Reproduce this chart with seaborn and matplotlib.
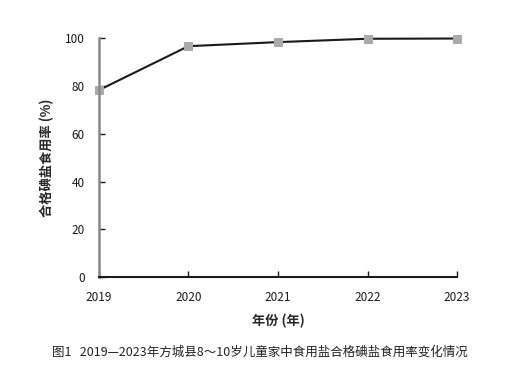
import pandas as pd
import seaborn as sns
import matplotlib.pyplot as plt

# datos
years = ["2019", "2020", "2021", "2022", "2023"]
rates = [78.2, 96.6, 98.3, 99.7, 99.8]
yticks = [0, 20, 40, 60, 80, 100]

sns.set_style("white")
plt.rcParams['font.family'] = ['Noto Sans CJK SC', 'DejaVu Sans']

df = pd.DataFrame({"year": years, "rate": rates})

fig = plt.figure(figsize=(5.2, 3.73), dpi=100)
ax = fig.add_axes([0.19, 0.257, 0.689, 0.641])

sns.lineplot(data=df, x="year", y="rate", ax=ax, color="#1a1a1a", linewidth=1.5,
             marker="s", markersize=6, markerfacecolor="#aaaaaa", markeredgecolor="#aaaaaa",
             sort=False)

ax.set_ylim(0, 100)
ax.set_xlim(0, 4)
ax.set_yticks(yticks)
ax.tick_params(axis="both", direction="in", length=4, width=1, labelsize=8.5, colors="#1a1a1a",
               bottom=True, left=True)
ax.tick_params(axis="x", pad=10)
ax.tick_params(axis="y", pad=10)
for s in ["top", "right"]:
    ax.spines[s].set_visible(False)
ax.spines["left"].set_color("#888888")
ax.spines["left"].set_linewidth(1.8)
ax.spines["bottom"].set_color("#1a1a1a")
ax.spines["bottom"].set_linewidth(1.5)
for line in ax.lines:
    line.set_clip_on(False)

ax.set_xlabel("年份 (年)", fontsize=9.5, fontweight="bold", labelpad=7)
ax.set_ylabel("合格碘盐食用率 (%)", fontsize=9.5, fontweight="bold", labelpad=8)

fig.text(0.5, 0.056, "图1   2019—2023年方城县8～10岁儿童家中食用盐合格碘盐食用率变化情况",
         ha="center", va="center", fontsize=9, color="#222222")

fig.savefig("out.png", dpi=100, facecolor="white")
